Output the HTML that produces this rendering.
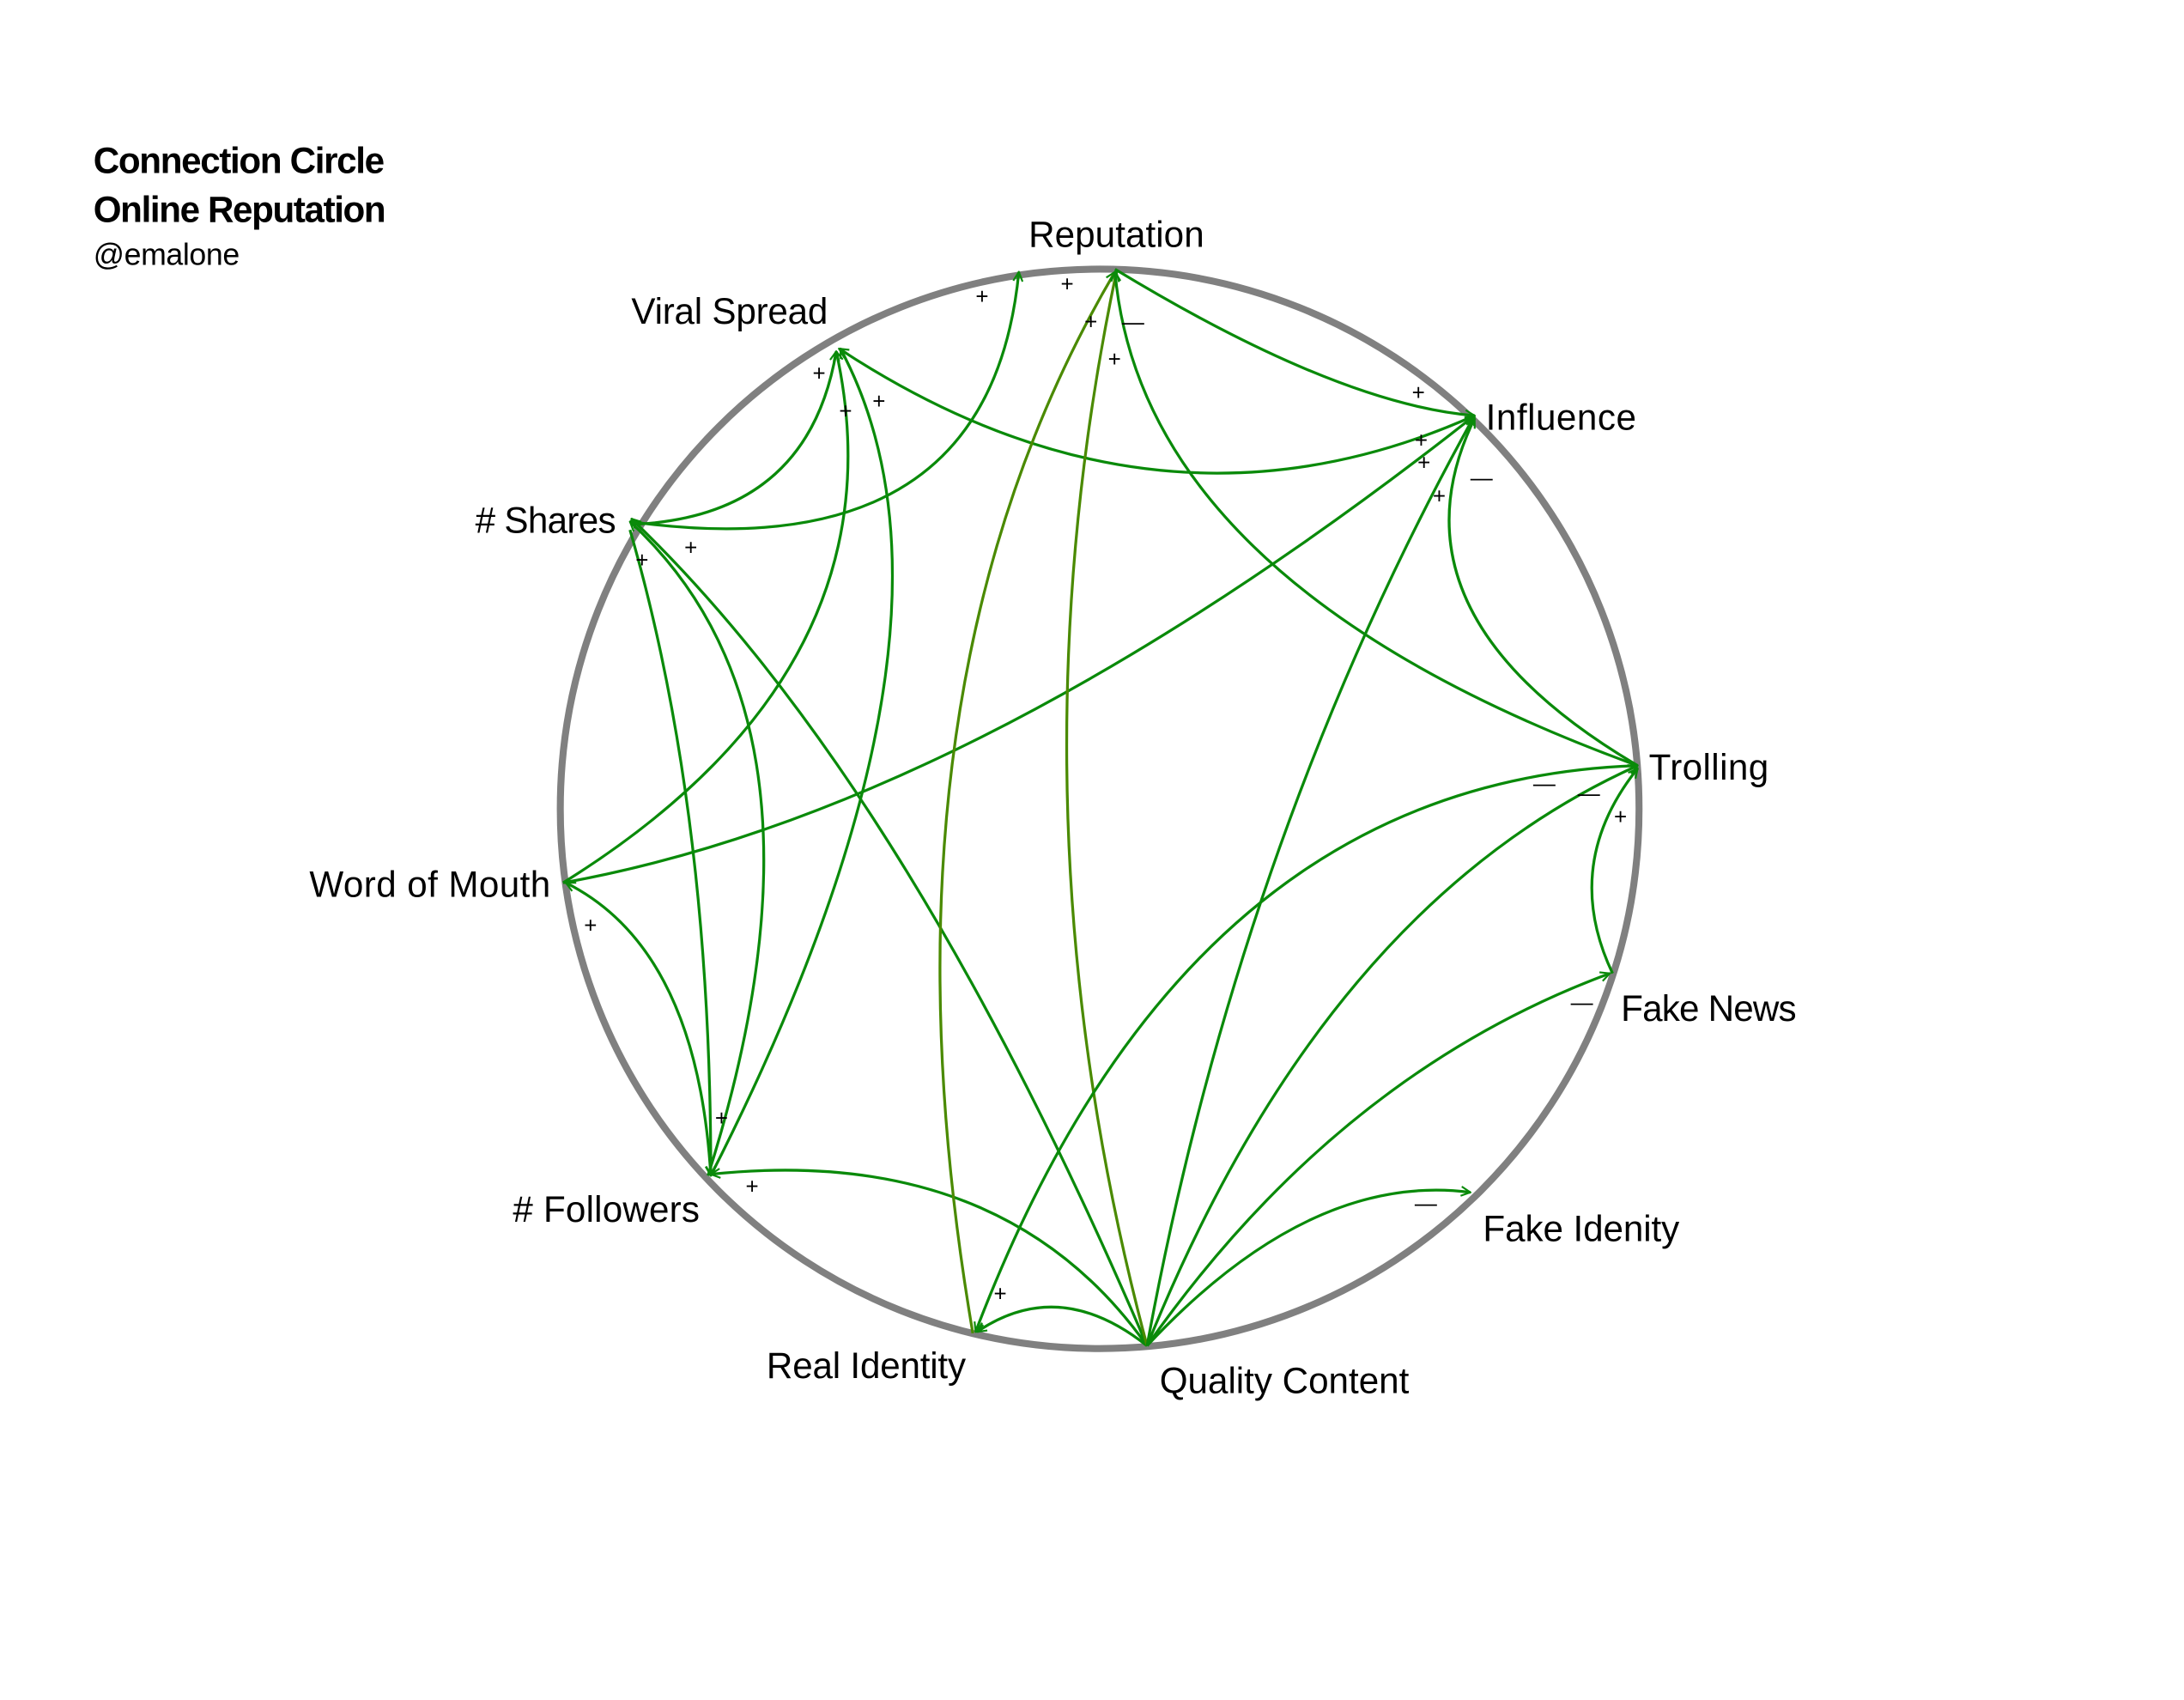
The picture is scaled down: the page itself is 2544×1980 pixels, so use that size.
<!DOCTYPE html>
<html><head><meta charset="utf-8"><style>
html,body{margin:0;padding:0;background:#fff;}
svg{display:block;}
text{font-family:"Liberation Sans Narrow","Liberation Sans",sans-serif;fill:#000;}
.l{font-size:26px;}
.s{font-size:16px;font-family:"Liberation Sans",sans-serif;}
.e{fill:none;stroke:#0a8a0a;stroke-width:2;marker-end:url(#a);}
</style></head><body>
<svg width="2544" height="1980" viewBox="0 0 1567 1219" preserveAspectRatio="none" xmlns="http://www.w3.org/2000/svg">
<defs>
<marker id="a" viewBox="0 0 12 12" refX="11" refY="6" markerWidth="8" markerHeight="8" orient="auto" markerUnits="userSpaceOnUse">
<path d="M1,1 L11,6 L1,11" fill="none" stroke="#0a8a0a" stroke-width="2"/>
</marker>
<marker id="b" viewBox="0 0 12 12" refX="1" refY="6" markerWidth="8" markerHeight="8" orient="auto" markerUnits="userSpaceOnUse">
<path d="M11,1 L1,6 L11,11" fill="none" stroke="#0a8a0a" stroke-width="2"/>
</marker>
</defs>
<rect width="1567" height="1219" fill="#fff"/>
<text x="67" y="124" style="font-size:26px;font-weight:bold" textLength="209">Connection Circle</text>
<text x="67" y="159" style="font-size:26px;font-weight:bold" textLength="210">Online Reputation</text>
<text x="67" y="190" style="font-size:22px" textLength="105">@emalone</text>

<circle cx="789" cy="580" r="387" fill="none" stroke="#808080" stroke-width="5"/>

<g>
<path class="e" d="M452,374 Q710,410 731,195"/>
<path class="e" d="M455,376 Q580,370 600,252"/>
<path class="e" d="M1058,298 Q830,400 602,250"/>
<path class="e" d="M510,843 Q710,450 603,250"/>
<path class="e" d="M404,633 Q650,480 600,252"/>
<path class="e" d="M404,633 Q700,580 1058,298"/>
<path class="e" d="M452,380 Q510,580 510,843"/>
<path class="e" d="M508,843 Q610,520 452,374"/>
<path class="e" d="M823,965 Q650,560 453,372"/>
<path class="e" d="M510,843 Q500,680 406,633" style="marker-start:url(#b)"/>
<path class="e" d="M823,965 Q720,820 510,842"/>
<path class="e" d="M823,965 Q760,915 701,955"/>
<path class="e" d="M698,956 Q620,500 800,195" style="stroke:#4a8a00"/>
<path class="e" d="M823,965 Q720,580 801,195" style="stroke:#4a8a00"/>
<path class="e" d="M800,193 Q960,290 1058,298"/>
<path class="e" d="M1175,549 Q820,420 800,195"/>
<path class="e" d="M1175,549 Q990,440 1058,300"/>
<path class="e" d="M823,965 Q890,600 1058,298"/>
<path class="e" d="M1175,549 Q850,560 700,955"/>
<path class="e" d="M823,965 Q950,650 1175,549"/>
<path class="e" d="M1157,698 Q1120,620 1175,551"/>
<path class="e" d="M823,965 Q960,770 1155,698"/>
<path class="e" d="M823,965 Q940,840 1055,855"/>
</g>

<g class="s">
<text class="s" x="700" y="218">+</text>
<text class="s" x="761" y="209">+</text>
<text class="s" x="778" y="236">+</text>
<text class="s" x="805" y="236">—</text>
<text class="s" x="795" y="263">+</text>
<text class="s" x="583" y="273">+</text>
<text class="s" x="602" y="300">+</text>
<text class="s" x="626" y="293">+</text>
<text class="s" x="491" y="398">+</text>
<text class="s" x="456" y="407">+</text>
<text class="s" x="1013" y="287">+</text>
<text class="s" x="1015" y="321">+</text>
<text class="s" x="1017" y="337">+</text>
<text class="s" x="1028" y="361">+</text>
<text class="s" x="1055" y="348">—</text>
<text class="s" x="1100" y="567">—</text>
<text class="s" x="1132" y="574">—</text>
<text class="s" x="1158" y="591">+</text>
<text class="s" x="1127" y="724">—</text>
<text class="s" x="419" y="669">+</text>
<text class="s" x="513" y="807">+</text>
<text class="s" x="535" y="856">+</text>
<text class="s" x="1015" y="868">—</text>
<text class="s" x="713" y="933">+</text>
</g>

<g class="l">
<text class="l" x="738" y="177" textLength="126">Reputation</text>
<text class="l" x="453" y="232" textLength="141">Viral Spread</text>
<text class="l" x="1066" y="308" textLength="108">Influence</text>
<text class="l" x="341" y="382" textLength="101"># Shares</text>
<text class="l" x="1183" y="559" textLength="86">Trolling</text>
<text class="l" x="222" y="643" textLength="173">Word of Mouth</text>
<text class="l" x="1163" y="732" textLength="126">Fake News</text>
<text class="l" x="368" y="876" textLength="134"># Followers</text>
<text class="l" x="1064" y="890" textLength="141">Fake Idenity</text>
<text class="l" x="550" y="988" textLength="143">Real Identity</text>
<text class="l" x="832" y="999" textLength="179">Quality Content</text>
</g>
</svg>
</body></html>
